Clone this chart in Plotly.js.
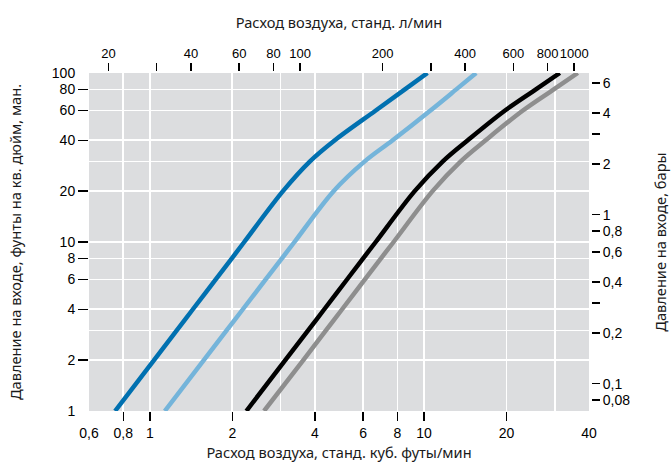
<!DOCTYPE html>
<html>
<head>
<meta charset="utf-8">
<script src="https://cdn.plot.ly/plotly-3.0.1.min.js"></script>
<style>html,body{margin:0;padding:0;background:#fff;}#chart{width:672px;height:462px;}</style>
</head>
<body>
<div id="chart"></div>
<script>
// Inlet pressure, psig (left axis)
const psi = [1, 2, 3, 4, 6, 8, 10, 20, 30, 40, 60, 80, 100];
// Air flow, standard cubic feet per minute, for each curve
const flowDarkBlue  = [0.747, 1.036, 1.254, 1.436, 1.74, 1.992, 2.21, 3.06, 3.84, 4.73, 6.67, 8.52, 10.3];
const flowLightBlue = [1.134, 1.574, 1.906, 2.185, 2.647, 3.033, 3.37, 4.68, 6.08, 7.69, 10.56, 13.12, 15.5];
const flowBlack     = [2.25, 3.12, 3.78, 4.33, 5.24, 6.00, 6.67, 9.25, 11.72, 14.45, 19.76, 25.6, 31.3];
const flowGray      = [2.61, 3.63, 4.39, 5.03, 6.09, 6.97, 7.75, 10.75, 13.62, 16.79, 22.96, 29.75, 36.4];

// Bottom axis (cfm)
const cfmLabelVals = [0.6, 0.8, 1, 2, 3, 4, 6, 8, 10, 20, 30, 40];
const cfmLabelText = ['0,6', '0,8', '1', '2', '', '4', '6', '8', '10', '20', '', '40'];
const cfmTickVals  = [0.8, 1, 2, 4, 6, 8, 10, 20];
// Top axis (l/min)
const lpmVals = [20, 30, 40, 60, 80, 100, 200, 300, 400, 600, 800, 1000];
const lpmText = ['20', '', '40', '60', '80', '100', '200', '', '400', '600', '800', '1000'];
// Left axis (psig)
const psiLabelVals = [1, 2, 3, 4, 6, 8, 10, 20, 30, 40, 60, 80, 100];
const psiLabelText = ['1', '2', '', '4', '6', '8', '10', '20', '', '40', '60', '80', '100'];
const psiTickVals  = [2, 4, 6, 8, 10, 20, 40, 60, 80];
// Right axis (bar)
const barVals = [0.08, 0.1, 0.2, 0.3, 0.4, 0.6, 0.8, 1, 2, 3, 4, 6];
const barText = ['0,08', '0,1', '0,2', '', '0,4', '0,6', '0,8', '1', '2', '', '4', '6'];

const CFM_TO_LPM = 28.3168;
const PSI_TO_BAR = 0.0689476;
const xMin = 0.6, xMax = 40, yMin = 1, yMax = 100;
const L = Math.log10;

const lineW = 4.5;
function tr(x, color) {
  return {x: x, y: psi, type: 'scatter', mode: 'lines', xaxis: 'x', yaxis: 'y',
          line: {color: color, width: lineW, shape: 'spline', smoothing: 1.0}, hoverinfo: 'skip'};
}
// invisible helper traces so that the secondary (unit-converted) axes are drawn
function helper(x, y, xa, ya) {
  return {x: x, y: y, type: 'scatter', mode: 'lines', xaxis: xa, yaxis: ya, opacity: 0,
          line: {width: 0.1, color: 'rgba(0,0,0,0)'}, hoverinfo: 'skip', showlegend: false};
}
const traces = [
  helper(flowGray.map(v => v * CFM_TO_LPM), psi, 'x2', 'y'),
  helper(flowGray, psi.map(v => v * PSI_TO_BAR), 'x', 'y2'),
  helper(flowGray, psi, 'x3', 'y3'),
  tr(flowDarkBlue, '#0070b0'),
  tr(flowLightBlue, '#74b4da'),
  tr(flowBlack, '#000000'),
  tr(flowGray, '#8e8e8e')
];

const tickFont = {family: 'Liberation Sans, Arial, sans-serif', size: 14, color: '#000'};
const topTickFont = {family: 'Liberation Sans, Arial, sans-serif', size: 13, color: '#000'};
const titleFont = {family: 'Noto Sans, sans-serif', size: 14.6, color: '#1a1a1a'};

const layout = {
  width: 672, height: 462,
  margin: {l: 89, r: 81, t: 71, b: 51, pad: 0},
  paper_bgcolor: '#ffffff', plot_bgcolor: '#dcdddf',
  showlegend: false,
  font: tickFont,
  xaxis: {
    type: 'log', range: [L(xMin), L(xMax)], domain: [0, 500 / 502],
    tickmode: 'array', tickvals: cfmLabelVals, ticktext: cfmLabelText, tickangle: 0,
    ticks: 'outside', ticklen: 9, tickcolor: 'rgba(0,0,0,0)', tickfont: tickFont,
    showgrid: true, gridcolor: '#ffffff', gridwidth: 1.7, zeroline: false, showline: false,
    title: {text: 'Расход воздуха, станд. куб. футы/мин', font: titleFont, standoff: 11}
  },
  xaxis3: {
    type: 'log', range: [L(xMin), L(xMax)], overlaying: 'x', anchor: 'y', side: 'bottom',
    tickmode: 'array', tickvals: cfmTickVals, ticks: 'outside', ticklen: 9, tickwidth: 1.5, tickcolor: '#000',
    showticklabels: false, showgrid: false, zeroline: false, showline: false
  },
  xaxis2: {
    type: 'log', range: [L(xMin * CFM_TO_LPM), L(xMax * CFM_TO_LPM)], overlaying: 'x',
    anchor: 'free', position: 1, side: 'top',
    tickmode: 'array', tickvals: lpmVals, ticktext: lpmText, tickangle: 0,
    ticks: 'outside', ticklen: 8, tickwidth: 1.5, tickcolor: '#000', tickfont: topTickFont,
    showgrid: false, zeroline: false, showline: false,
    title: {text: 'Расход воздуха, станд. л/мин', font: titleFont, standoff: 12}
  },
  yaxis: {
    type: 'log', range: [L(yMin), L(yMax)], domain: [0, 338 / 340],
    tickmode: 'array', tickvals: psiLabelVals, ticktext: psiLabelText,
    ticks: 'outside', ticklen: 10, tickcolor: 'rgba(0,0,0,0)', tickfont: tickFont,
    showgrid: true, gridcolor: '#ffffff', gridwidth: 1.7, zeroline: false, showline: false,
    title: {text: 'Давление на входе, фунты на кв. дюйм, ман.', font: titleFont, standoff: 26}
  },
  yaxis3: {
    type: 'log', range: [L(yMin), L(yMax)], overlaying: 'y', anchor: 'x', side: 'left',
    tickmode: 'array', tickvals: psiTickVals, ticks: 'outside', ticklen: 10, tickwidth: 1.5, tickcolor: '#000',
    showticklabels: false, showgrid: false, zeroline: false, showline: false
  },
  yaxis2: {
    type: 'log', range: [L(yMin * PSI_TO_BAR), L(yMax * PSI_TO_BAR)], overlaying: 'y',
    anchor: 'free', position: 1, side: 'right',
    tickmode: 'array', tickvals: barVals, ticktext: barText,
    ticks: 'outside', ticklen: 8, tickwidth: 1.5, tickcolor: '#000', tickfont: tickFont,
    showgrid: false, zeroline: false, showline: false,
    title: {text: 'Давление на входе, бары', font: titleFont, standoff: 26}
  }
};

Plotly.newPlot('chart', traces, layout, {staticPlot: true, displayModeBar: false});
</script>
</body>
</html>
